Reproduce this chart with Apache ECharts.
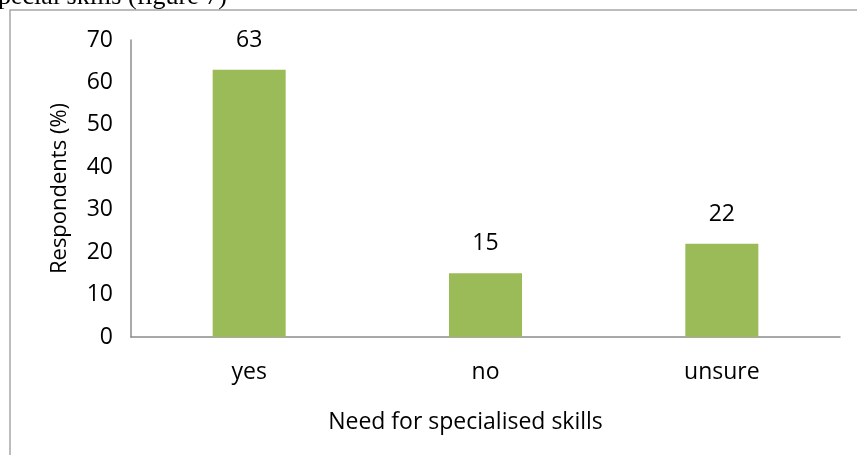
<!DOCTYPE html>
<html>
<head>
<meta charset="utf-8">
<script src="https://cdn.jsdelivr.net/npm/echarts@6/dist/echarts.min.js"></script>
<style>
  html, body { margin: 0; padding: 0; background: #fff; }
  #chart { width: 857px; height: 455px; }
</style>
</head>
<body>
<div id="chart"></div>
<script>
// Survey answers: need for specialised skills
const categories = ['yes', 'no', 'unsure'];
const respondentsPct = [63, 15, 22];
const yTicks = { min: 0, max: 70, interval: 10 };

const FONT = 'Open Sans';
const FS = 23;
const chart = echarts.init(document.getElementById('chart'), null, { renderer: 'canvas' });

chart.setOption({
  backgroundColor: '#ffffff',
  animation: false,
  graphic: [
    {
      type: 'rect',
      shape: { x: 10, y: 10, width: 900, height: 500 },
      style: { fill: 'none', stroke: '#a6a6a6', lineWidth: 1.5 },
      silent: true
    },
    {
      type: 'text',
      left: -2,
      top: -16,
      style: {
        text: 'pecial skills (figure 7)',
        fontFamily: 'Liberation Serif',
        fontSize: 26,
        fill: '#000'
      }
    }
  ],
  grid: { left: 131, right: 17, top: 40, bottom: 118 },
  xAxis: {
    type: 'category',
    data: categories,
    name: 'Need for specialised skills',
    nameLocation: 'middle',
    nameGap: 74,
    nameTextStyle: { fontFamily: FONT, fontSize: FS, color: '#000', padding: [0, 40, 0, 0] },
    axisLine: { lineStyle: { color: '#8c8c8c', width: 1.5 } },
    axisTick: { show: false },
    axisLabel: { fontFamily: FONT, fontSize: FS, color: '#000', margin: 24 }
  },
  yAxis: {
    type: 'value',
    min: yTicks.min,
    max: yTicks.max,
    interval: yTicks.interval,
    name: 'Respondents (%)',
    nameLocation: 'middle',
    nameGap: 60,
    nameRotate: 90,
    nameTextStyle: { fontFamily: FONT, fontSize: 22, color: '#000' },
    axisLine: { show: true, lineStyle: { color: '#8c8c8c', width: 1.5 } },
    axisTick: { show: false },
    splitLine: { show: false },
    axisLabel: { fontFamily: FONT, fontSize: FS, color: '#000', margin: 18 }
  },
  series: [{
    type: 'bar',
    data: respondentsPct,
    barWidth: 73,
    itemStyle: { color: '#9bbb59' },
    label: {
      show: true,
      position: 'top',
      distance: 18,
      fontFamily: FONT,
      fontSize: FS,
      color: '#000'
    }
  }]
});
</script>
</body>
</html>
